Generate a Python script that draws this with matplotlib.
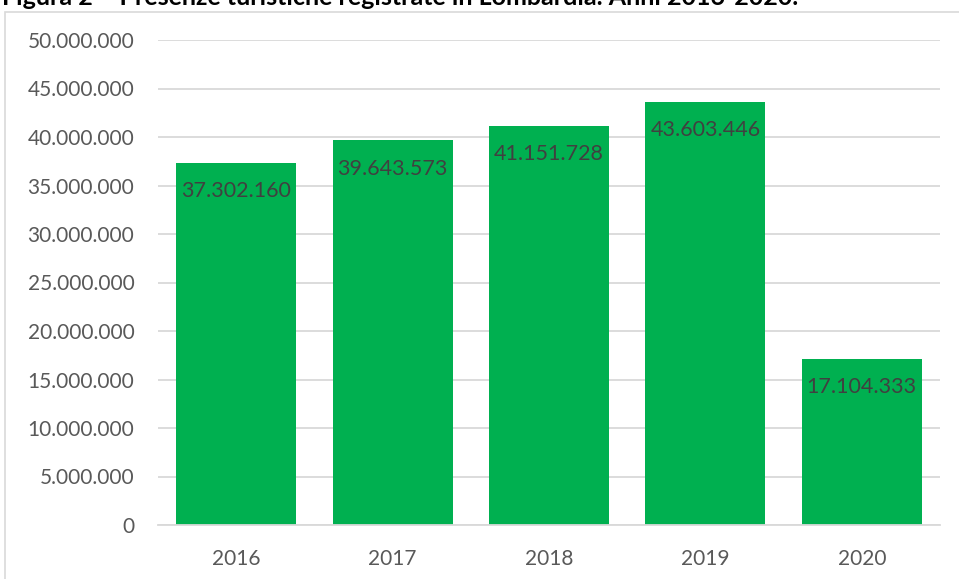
import matplotlib.pyplot as plt
from matplotlib import ticker
from matplotlib.patches import Rectangle
import numpy as np

anni = ['2016', '2017', '2018', '2019', '2020']
presenze = [37302160, 39643573, 41151728, 43603446, 17104333]
titolo = 'Figura 2 – Presenze turistiche registrate in Lombardia. Anni 2016-2020.'

plt.rcParams['font.family'] = ['Lato', 'DejaVu Sans']

def fmt_it(v, pos=None):
    return f'{int(v):,}'.replace(',', '.')

fig = plt.figure(figsize=(9.59, 5.79), dpi=100)
W, H = 959, 579

# cornice del grafico (tagliata a destra e in basso)
fig.patches.append(Rectangle((5 / W, -0.1), 1.2, 1 - 12 / H + 0.1, transform=fig.transFigure,
                             fill=False, edgecolor='#d9d9d9', linewidth=1.2))
fig.text(2 / W, 1 - 5 / H, titolo, fontsize=18, fontweight='bold', color='black',
         ha='left', va='baseline')

ax = fig.add_axes([158 / W, (H - 525) / H, 782 / W, 485 / H])
x = np.arange(len(anni))
barre = ax.bar(x, presenze, width=0.767, color='#00b050', zorder=2)

for xi, v in zip(x, presenze):
    ax.annotate(fmt_it(v), (xi, v), xytext=(0, -13), textcoords='offset points',
                ha='center', va='top', fontsize=15.5, color='#404040', zorder=3)

ax.set_xlim(-0.5, len(anni) - 0.5)
ax.set_ylim(0, 50000000)
ax.yaxis.set_major_locator(ticker.MultipleLocator(5000000))
ax.yaxis.set_major_formatter(ticker.FuncFormatter(fmt_it))
ax.set_xticks(x)
ax.set_xticklabels(anni)
ax.tick_params(axis='both', length=0, labelsize=15, labelcolor='#595959')
ax.tick_params(axis='y', pad=17)
ax.tick_params(axis='x', pad=17)
ax.grid(axis='y', color='#d9d9d9', linewidth=1.3, zorder=0)
for s in ['top', 'right', 'left']:
    ax.spines[s].set_visible(False)
ax.spines['bottom'].set_color('#d9d9d9')
ax.spines['bottom'].set_linewidth(1.3)

plt.savefig('out.png', dpi=100)
